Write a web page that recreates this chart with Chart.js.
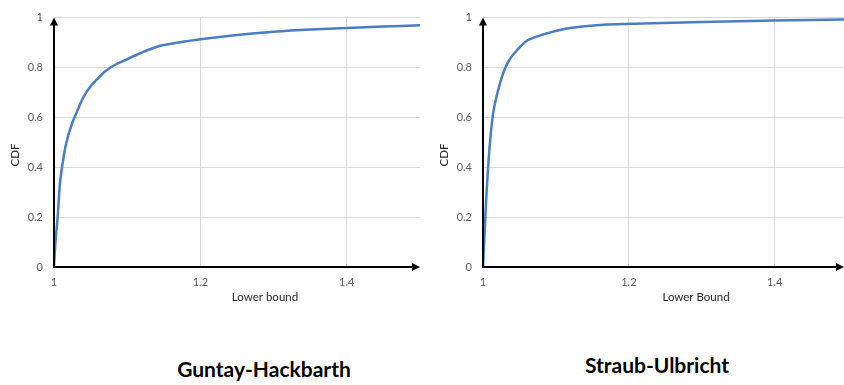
<!DOCTYPE html>
<html>
<head>
<meta charset="utf-8">
<script src="https://cdn.jsdelivr.net/npm/chart.js@4/dist/chart.umd.min.js"></script>
<style>
  body { margin: 0; background: #fff; width: 844px; height: 385px; position: relative; overflow: hidden; }
  .box { position: absolute; top: 0; height: 310px; }
  .caption { position: absolute; font: bold 21px Lato, sans-serif; line-height: 22px; color: #000; white-space: nowrap; transform: translateX(-50%); }
</style>
</head>
<body>
<div class="box" style="left:0;width:430px"><canvas id="chartGH"></canvas></div>
<div class="box" style="left:429px;width:415px"><canvas id="chartSU"></canvas></div>
<div class="caption" style="left:264px;top:358px">Guntay-Hackbarth</div>
<div class="caption" style="left:657px;top:354px">Straub-Ulbricht</div>
<script>
// Guntay-Hackbarth CDF of the lower bound
const ghX = [1, 1.002, 1.005, 1.008, 1.012, 1.017, 1.024, 1.031, 1.04, 1.05, 1.058, 1.07, 1.086, 1.1, 1.12, 1.145, 1.17, 1.2, 1.25, 1.3, 1.35, 1.4, 1.45, 1.5];
const ghY = [0, 0.1, 0.2, 0.33, 0.42, 0.5, 0.57, 0.62, 0.68, 0.725, 0.75, 0.785, 0.815, 0.833, 0.86, 0.887, 0.9, 0.913, 0.93, 0.943, 0.952, 0.958, 0.964, 0.969];

// Straub-Ulbricht CDF of the lower bound
const suX = [1, 1.002, 1.004, 1.007, 1.0096, 1.014, 1.02, 1.028, 1.036, 1.046, 1.06, 1.08, 1.11, 1.14, 1.17, 1.22, 1.3, 1.4, 1.495];
const suY = [0, 0.12, 0.25, 0.4, 0.5, 0.618, 0.7, 0.78, 0.83, 0.867, 0.907, 0.93, 0.953, 0.965, 0.972, 0.976, 0.982, 0.988, 0.992];

const xTicks = [1, 1.2, 1.4];
const yTicks = [0, 0.2, 0.4, 0.6, 0.8, 1];

const tickFont = { family: 'Lato, sans-serif', size: 11 };
const tickColor = '#595959';

// black axes with arrow heads + axis titles (Excel style)
const axesPlugin = {
  id: 'axesPlugin',
  afterDatasetsDraw(chart, args, opts) {
    const { ctx, chartArea: a } = chart;
    ctx.save();
    ctx.strokeStyle = '#000';
    ctx.fillStyle = '#000';
    ctx.lineWidth = 2;
    ctx.beginPath();
    ctx.moveTo(a.left, a.bottom);
    ctx.lineTo(a.left, a.top + 6);
    ctx.moveTo(a.left - 1, a.bottom);
    ctx.lineTo(a.right - 6, a.bottom);
    ctx.stroke();
    // arrow heads
    ctx.beginPath();
    ctx.moveTo(a.left, a.top);
    ctx.lineTo(a.left - 4, a.top + 8);
    ctx.lineTo(a.left + 4, a.top + 8);
    ctx.closePath();
    ctx.fill();
    ctx.beginPath();
    ctx.moveTo(a.right, a.bottom);
    ctx.lineTo(a.right - 8, a.bottom - 4);
    ctx.lineTo(a.right - 8, a.bottom + 4);
    ctx.closePath();
    ctx.fill();
    // titles
    ctx.fillStyle = '#262626';
    ctx.font = '11.5px Lato, sans-serif';
    ctx.textAlign = 'center';
    ctx.textBaseline = 'middle';
    ctx.fillText(opts.xTitle, a.left + opts.xTitleOffset, 297);
    ctx.translate(15, 155);
    ctx.rotate(-Math.PI / 2);
    ctx.fillText('CDF', 0, 0);
    ctx.restore();
  }
};

function makeChart(id, xs, ys, xMax, padRight, xTitle, xTitleOffset) {
  return new Chart(document.getElementById(id), {
    type: 'line',
    data: {
      datasets: [{
        data: xs.map((x, i) => ({ x: x, y: ys[i] })),
        borderColor: '#4a7dc4',
        borderWidth: 2.5,
        pointRadius: 0,
        tension: 0.3,
        fill: false
      }]
    },
    options: {
      responsive: true,
      maintainAspectRatio: false,
      animation: false,
      layout: { padding: { top: 13, right: padRight, left: 0, bottom: 0 } },
      plugins: {
        legend: { display: false },
        tooltip: { enabled: false },
        axesPlugin: { xTitle: xTitle, xTitleOffset: xTitleOffset }
      },
      scales: {
        x: {
          type: 'linear',
          min: 1,
          max: xMax,
          afterBuildTicks: s => { s.ticks = xTicks.map(v => ({ value: v })); },
          afterFit: s => { s.height = 43; },
          ticks: { font: tickFont, color: tickColor, padding: 9, maxRotation: 0,
                   callback: v => String(v) },
          grid: { color: '#d9d9d9', drawTicks: false },
          border: { display: false }
        },
        y: {
          min: 0,
          max: 1,
          afterBuildTicks: s => { s.ticks = yTicks.map(v => ({ value: v })); },
          afterFit: s => { s.width = 54; },
          ticks: { font: tickFont, color: tickColor, padding: 11,
                   callback: v => String(v) },
          grid: { color: '#d9d9d9', drawTicks: false },
          border: { display: false }
        }
      }
    },
    plugins: [axesPlugin]
  });
}

makeChart('chartGH', ghX, ghY, 1.5, 10, 'Lower bound', 211);
makeChart('chartSU', suX, suY, 1.495, 0, 'Lower Bound', 213);
</script>
</body>
</html>
